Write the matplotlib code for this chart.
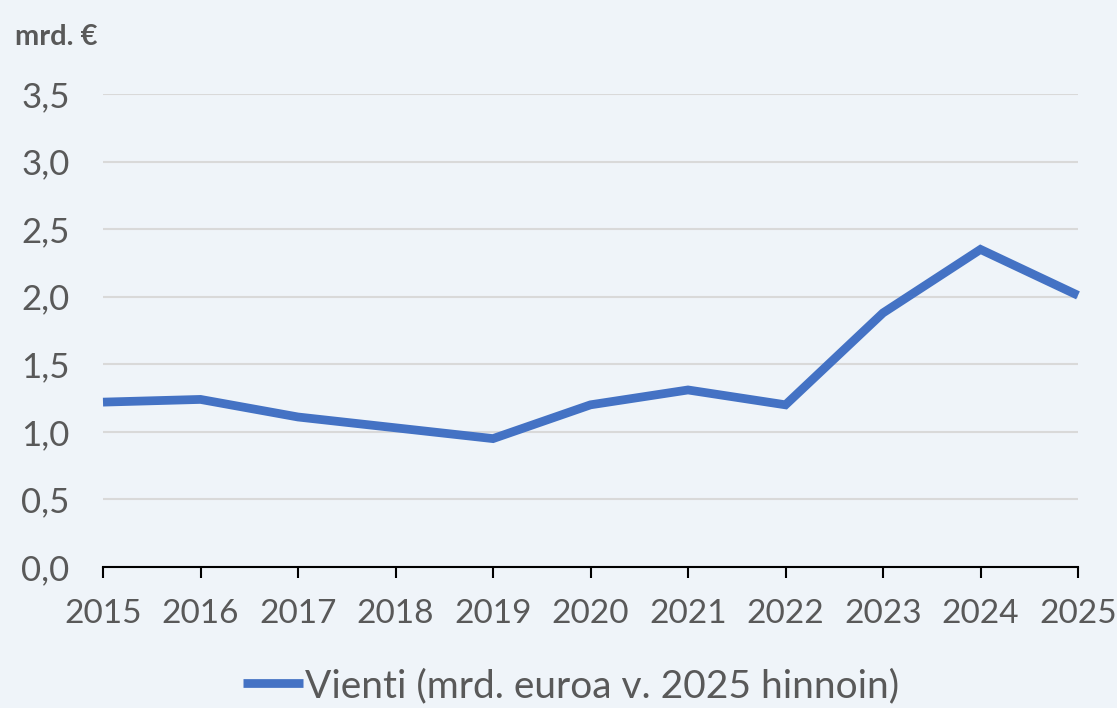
import matplotlib
matplotlib.use("Agg")
import matplotlib.pyplot as plt
from matplotlib.ticker import FuncFormatter

years = [2015, 2016, 2017, 2018, 2019, 2020, 2021, 2022, 2023, 2024, 2025]
vienti = [1.22, 1.24, 1.11, 1.03, 0.95, 1.20, 1.31, 1.20, 1.88, 2.35, 2.01]
yticks = [0.0, 0.5, 1.0, 1.5, 2.0, 2.5, 3.0, 3.5]
series_label = "Vienti (mrd. euroa v. 2025 hinnoin)"
unit_label = "mrd. €"

bg = "#EFF4F9"
txt = "#595959"
line_c = "#4472C4"

plt.rcParams['font.family'] = ['Lato', 'DejaVu Sans']

fig = plt.figure(figsize=(11.17, 7.08), dpi=100, facecolor=bg)
ax = fig.add_axes([103/1117, 1-567/708, (1078-103)/1117, (567-94)/708])
ax.set_facecolor(bg)

ax.plot(years, vienti, color=line_c, lw=6.3, solid_joinstyle='miter', solid_capstyle='butt',
        label=series_label, zorder=3, clip_on=False)

ax.set_xlim(years[0], years[-1])
ax.set_ylim(0, 3.5)
ax.set_yticks(yticks)
ax.yaxis.set_major_formatter(FuncFormatter(lambda v, p: f"{v:.1f}".replace(".", ",")))
ax.set_xticks(years)
ax.grid(axis='y', color="#D9D9D9", lw=1.5, zorder=0)
for s in ['top', 'right', 'left']:
    ax.spines[s].set_visible(False)
ax.spines['bottom'].set_color('black')
ax.spines['bottom'].set_linewidth(1.5)
ax.spines['bottom'].set_zorder(4)
ax.tick_params(axis='x', direction='out', length=8, width=1.5, color='black',
               labelsize=24, labelcolor=txt, pad=15)
ax.tick_params(axis='y', length=0, labelsize=25, labelcolor=txt, pad=24)

fig.text(15/1117, 1-37/708, unit_label, fontsize=21, fontweight='bold', color=txt,
         ha='left', va='center')

leg = fig.legend(loc='center', bbox_to_anchor=(571/1117, 1-686/708), frameon=False,
                 fontsize=28, handlelength=1.55, handletextpad=0.05, labelcolor=txt)

fig.savefig("out.png", dpi=100, facecolor=bg)
